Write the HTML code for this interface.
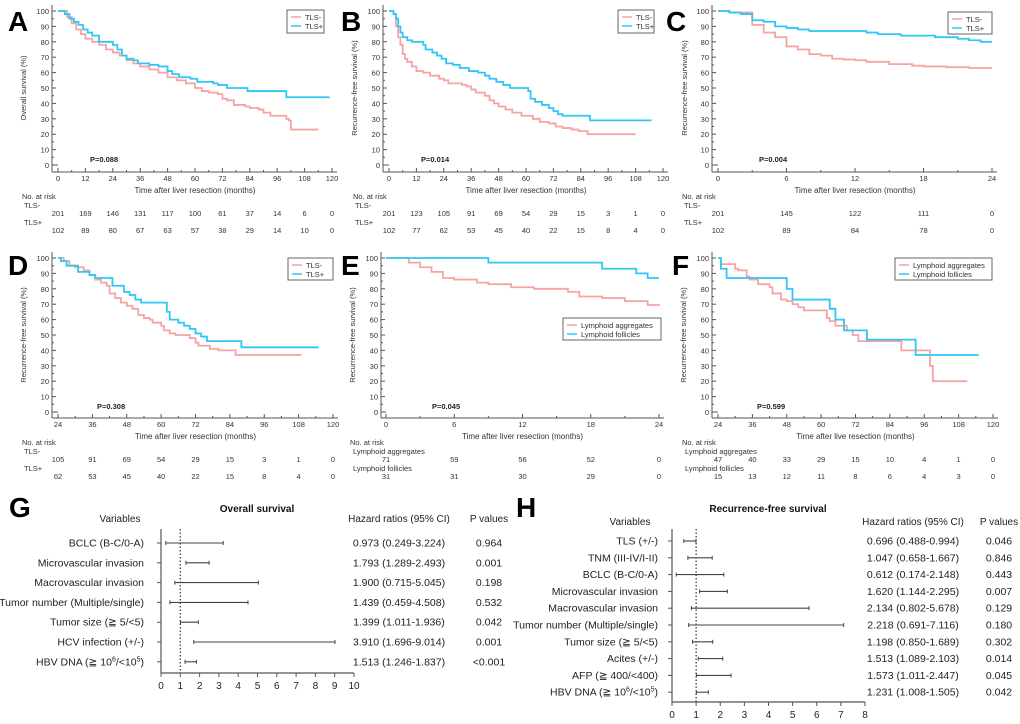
<!DOCTYPE html>
<html><head><meta charset="utf-8">
<style>
html,body{margin:0;padding:0;background:#fff;}
svg{display:block;font-family:"Liberation Sans",Arial,sans-serif;}
</style></head>
<body>
<svg id="fig" width="1020" height="724" viewBox="0 0 1020 724" xmlns="http://www.w3.org/2000/svg"></svg>
<script>
// ---------- Kaplan-Meier data ----------
const aNegT=[0,2,4,6,8,10,12,15,18,21,24,27,30,33,36,40,44,48,52,56,60,63,66,70,72,74,77,82,84,88,90,93,100,101,102,114];
const aNegS=[100,100,96,92,88,85,82,80,78,75,73,71,68,66,64,62,60,57,55,53,50,48,47,46,43,42,39,38,37,36,34,32,30,29,23,23];
const aPosT=[0,3,5,7,9,11,13,15,18,22,24,26,28,30,33,35,40,44,48,50,53,58,61,68,70,74,83,100,119];
const aPosS=[100,98,95,93,91,88,86,84,80,80,78,75,71,69,68,66,65,64,61,59,57,56,54,53,52,50,48,44,44];
const bNegT=[0,2,3,4,5,6,7,8,10,12,15,18,22,24,26,32,34,36,38,42,44,46,48,51,54,58,63,66,70,73,76,80,83,87,108];
const bNegS=[100,98,90,83,78,72,69,67,64,61,60,58,56,55,53,52,51,49,47,45,42,40,38,36,34,32,30,28,27,25,24,23,22,20,20];
const bPosT=[0,2,3,4,5,6,8,10,15,16,19,21,23,25,28,31,35,39,42,44,47,50,53,61,62,64,67,70,72,74,76,88,115];
const bPosS=[100,98,95,90,86,83,81,80,78,75,73,71,69,66,65,63,61,60,58,56,54,52,50,48,43,41,39,37,35,33,32,29,29];
const cNegT=[0,1,3,4,5,6,7,8,9,10,11,12,13,15,17,18,20,22,24];
const cNegS=[100,99,91,86,83,77,75,72,71,69,68.5,68,67,65.5,64.5,64,63.5,63,63];
const cPosT=[0,1,2,3,4,5,6,7,8,13,14,16,19,21,22,23,24];
const cPosS=[100,99,98,94,93,90,89,88,87,86,85,84,83,82,81,80,80];
const dNegT=[24,26,28,30,33,35,37,39,41,42,44,46,48,50,52,54,56,57,60,61,63,65,70,72,73,77,80,86,109];
const dNegS=[100,98,95,94,92,89,86,84,82,77,74,71,69,67,63,61,60,58,56,53,51,50,48,45,43,41,40,37,37];
const dPosT=[24,25,27,31,35,37,43,47,49,51,53,61,62,63,66,68,70,72,74,76,88,115];
const dPosS=[100,98,95,91,89,87,82,78,76,73,71,71,65,60,58,56,54,51,49,46,42,42];
const eAggT=[0,2,3,4,5,6,8,9,11,13,16,17,19,21,23,24];
const eAggS=[100,97,94,91,87,86,84,83,81,80,78,75,74,72,69.5,69];
const eFolT=[0,9,19,22,23,24];
const eFolS=[100,97,93,90,87,87];
const fAggT=[24,25,30,31,34,35,38,42,43,46,48,50,52,54,61,62,63,65,69,71,73,88,97,98,99,111];
const fAggS=[100,96,93,92,88,86,83,81,77,73,72,70,68,66,66,61,59,56,53,50,46,40,40,30,20,20];
const fFolT=[24,25,27,47,48,50,62,63,65,68,76,93,115];
const fFolS=[100,93,87,87,80,73,73,67,60,53,47,37,37];
// risk tables
const aRiskNeg=[201,169,146,131,117,100,61,37,14,6,0];
const aRiskPos=[102,89,80,67,63,57,38,29,14,10,0];
const bRiskNeg=[201,123,105,91,69,54,29,15,3,1,0];
const bRiskPos=[102,77,62,53,45,40,22,15,8,4,0];
const cRiskNeg=[201,145,122,111,0];
const cRiskPos=[102,89,84,78,0];
const dRiskNeg=[105,91,69,54,29,15,3,1,0];
const dRiskPos=[62,53,45,40,22,15,8,4,0];
const eRiskAgg=[71,59,56,52,0];
const eRiskFol=[31,31,30,29,0];
const fRiskAgg=[47,40,33,29,15,10,4,1,0];
const fRiskFol=[15,13,12,11,8,6,4,3,0];
const yTicks=[0,10,20,30,40,50,60,70,80,90,100];
// ---------- Forest data ----------
const gLabels=["BCLC (B-C/0-A)","Microvascular invasion","Macrovascular invasion","Tumor number (Multiple/single)","Tumor size (\u2267 5/<5)","HCV infection (+/-)","HBV DNA"];
const gHR=[0.973,1.793,1.900,1.439,1.399,3.910,1.513];
const gLo=[0.249,1.289,0.715,0.459,1.011,1.696,1.246];
const gHi=[3.224,2.493,5.045,4.508,1.936,9.014,1.837];
const gP=["0.964","0.001","0.198","0.532","0.042","0.001","<0.001"];
const gTicks=[0,1,2,3,4,5,6,7,8,9,10];
const hLabels=["TLS (+/-)","TNM (III-IV/I-II)","BCLC (B-C/0-A)","Microvascular invasion","Macrovascular invasion","Tumor number (Multiple/single)","Tumor size (\u2267 5/<5)","Acites (+/-)","AFP (\u2267 400/<400)","HBV DNA"];
const hHR=[0.696,1.047,0.612,1.620,2.134,2.218,1.198,1.513,1.573,1.231];
const hLo=[0.488,0.658,0.174,1.144,0.802,0.691,0.850,1.089,1.011,1.008];
const hHi=[0.994,1.667,2.148,2.295,5.678,7.116,1.689,2.103,2.447,1.505];
const hP=["0.046","0.846","0.443","0.007","0.129","0.180","0.302","0.014","0.045","0.042"];
const hTicks=[0,1,2,3,4,5,6,7,8];

const NS="http://www.w3.org/2000/svg";
const svg=document.getElementById('fig');
function mk(tag,attrs,parent,txt){const e=document.createElementNS(NS,tag);for(const k in attrs)e.setAttribute(k,attrs[k]);if(txt!==undefined)e.textContent=txt;(parent||svg).appendChild(e);return e;}
const PINK="#f7a3a3",CYAN="#2fc7f5",AX="#555";

function kmPanel(cfg){
  const g=mk('g',{});
  
  
  const sx=t=>cfg.x0+(t-cfg.tmin)/(cfg.tmax-cfg.tmin)*(cfg.x1-cfg.x0);
  const sy=s=>cfg.y0-(s/100)*(cfg.y0-cfg.y100);
  const L=mk('text',{x:cfg.lx,y:cfg.ly,'font-size':28,'font-weight':'bold',fill:'#000'},g,cfg.letter);
  
  const ya=mk('line',{x1:cfg.ax,y1:cfg.y100-6,x2:cfg.ax,y2:cfg.ay,stroke:AX,'stroke-width':1},g);
  
  const xa=mk('line',{x1:cfg.ax,y1:cfg.ay,x2:cfg.x1+5,y2:cfg.ay,stroke:AX,'stroke-width':1},g);
  
  yTicks.forEach(v=>{
    mk('line',{x1:cfg.ax,y1:sy(v),x2:cfg.ax+4,y2:sy(v),stroke:AX},g);
    if(v<100)mk('line',{x1:cfg.ax,y1:sy(v+5),x2:cfg.ax+2,y2:sy(v+5),stroke:AX},g);
    const t=mk('text',{x:cfg.ax-3,y:sy(v)+3,'font-size':7.5,'text-anchor':'end',fill:'#333'},g,String(v));
    
  });
  for(let t=cfg.tmin;t<=cfg.tmax;t+=cfg.step){
    mk('line',{x1:sx(t),y1:cfg.ay,x2:sx(t),y2:cfg.ay-4,stroke:AX},g);
    if(t<cfg.tmax)mk('line',{x1:sx(t+cfg.step/2),y1:cfg.ay,x2:sx(t+cfg.step/2),y2:cfg.ay-2,stroke:AX},g);
    const tl=mk('text',{x:sx(t),y:cfg.ay+9,'font-size':7.5,'text-anchor':'middle',fill:'#333'},g,String(t));
    
  }
  mk('line',{x1:cfg.ax,y1:cfg.y0,x2:sx(cfg.tmin),y2:cfg.y0,stroke:AX},g);
  const xt=mk('text',{x:(cfg.x0+cfg.x1)/2,y:cfg.ay+21,'font-size':8,'text-anchor':'middle',fill:'#333'},g,cfg.xtitle);
  
  const yt=mk('text',{x:0,y:0,'font-size':7.5,'text-anchor':'middle',fill:'#333',transform:`translate(${cfg.ytx},${(cfg.y0+cfg.y100)/2}) rotate(-90)`},g,cfg.ytitle);
  
  cfg.series.forEach((s,i)=>{
    let d=`M${sx(s.t[0])},${sy(s.s[0])}`;
    for(let k=1;k<s.t.length;k++){d+=`H${sx(s.t[k])}V${sy(s.s[k])}`;}
    const p=mk('path',{d:d,fill:'none',stroke:s.c,'stroke-width':1.8},g);
    
    
  });
  const pv=mk('text',{x:cfg.px,y:cfg.y0-3,'font-size':7.5,'font-weight':'bold',fill:'#222'},g,cfg.p);
  
  const lg=mk('g',{},g);
  
  mk('rect',{x:cfg.leg[0],y:cfg.leg[1],width:cfg.leg[2],height:cfg.leg[3],fill:'#fff',stroke:'#666','stroke-width':1},lg);
  cfg.series.forEach((s,i)=>{
    const yy=cfg.leg[1]+7+i*9;
    mk('line',{x1:cfg.leg[0]+4,y1:yy,x2:cfg.leg[0]+14,y2:yy,stroke:s.c,'stroke-width':1.5},lg);
    const lt=mk('text',{x:cfg.leg[0]+18,y:yy+3,'font-size':7.5,fill:'#333'},lg,s.name);
    
  });
  const rt=mk('g',{},g);
  
  const ry=cfg.ay+27;
  mk('text',{x:cfg.rx,y:ry,'font-size':7.5,fill:'#333'},rt,'No. at risk');
  cfg.series.forEach((s,i)=>{
    mk('text',{x:cfg.rx+(cfg.lymph?3:2),y:ry+9+i*17,'font-size':7.5,fill:'#333'},rt,s.name);
    s.risk.forEach((n,k)=>{
      const t=cfg.tmin+k*cfg.riskStep;
      mk('text',{x:sx(t),y:ry+17+i*17,'font-size':7.5,'text-anchor':'middle',fill:'#333'},rt,String(n));
    });
  });
}

const xt1="Time after liver resection (months)";
const os="Overall survival (%)",rfs="Recurrence-free survival (%)";
kmPanel({id:'a',letter:'A',lx:8,ly:31,x0:58,x1:332,tmin:0,tmax:120,step:12,riskStep:12,y100:11,y0:165,ax:52,ay:172,xtitle:xt1,ytitle:os,ytx:26,px:90,p:'P=0.088',leg:[287,10,37,23],rx:22,
  series:[{name:'TLS-',t:aNegT,s:aNegS,c:PINK,risk:aRiskNeg},{name:'TLS+',t:aPosT,s:aPosS,c:CYAN,risk:aRiskPos}]});
kmPanel({id:'b',letter:'B',lx:341,ly:31,x0:389,x1:663,tmin:0,tmax:120,step:12,riskStep:12,y100:11,y0:165,ax:383,ay:172,xtitle:xt1,ytitle:rfs,ytx:357,px:421,p:'P=0.014',leg:[618,10,36,23],rx:353,
  series:[{name:'TLS-',t:bNegT,s:bNegS,c:PINK,risk:bRiskNeg},{name:'TLS+',t:bPosT,s:bPosS,c:CYAN,risk:bRiskPos}]});
kmPanel({id:'c',letter:'C',lx:666,ly:31,x0:718,x1:992,tmin:0,tmax:24,step:6,riskStep:6,y100:11,y0:165,ax:712,ay:172,xtitle:xt1,ytitle:rfs,ytx:687,px:759,p:'P=0.004',leg:[948,12,44,22],rx:682,
  series:[{name:'TLS-',t:cNegT,s:cNegS,c:PINK,risk:cRiskNeg},{name:'TLS+',t:cPosT,s:cPosS,c:CYAN,risk:cRiskPos}]});
kmPanel({id:'d',letter:'D',lx:8,ly:275,x0:58,x1:333,tmin:24,tmax:120,step:12,riskStep:12,y100:258,y0:412,ax:52,ay:418,xtitle:xt1,ytitle:rfs,ytx:26,px:97,p:'P=0.308',leg:[288,258,45,22],rx:22,
  series:[{name:'TLS-',t:dNegT,s:dNegS,c:PINK,risk:dRiskNeg},{name:'TLS+',t:dPosT,s:dPosS,c:CYAN,risk:dRiskPos}]});
kmPanel({id:'e',letter:'E',lx:341,ly:275,x0:386,x1:659,tmin:0,tmax:24,step:6,riskStep:6,y100:258,y0:412,ax:381,ay:418,xtitle:xt1,ytitle:rfs,ytx:355,px:432,p:'P=0.045',leg:[563,318,98,22],rx:350,lymph:true,
  series:[{name:'Lymphoid aggregates',t:eAggT,s:eAggS,c:PINK,risk:eRiskAgg},{name:'Lymphoid follicles',t:eFolT,s:eFolS,c:CYAN,risk:eRiskFol}]});
kmPanel({id:'f',letter:'F',lx:672,ly:275,x0:718,x1:993,tmin:24,tmax:120,step:12,riskStep:12,y100:258,y0:412,ax:712,ay:418,xtitle:"Time after live resection (months)",ytitle:rfs,ytx:686,px:757,p:'P=0.599',leg:[895,258,97,22],rx:682,lymph:true,
  series:[{name:'Lymphoid aggregates',t:fAggT,s:fAggS,c:PINK,risk:fRiskAgg},{name:'Lymphoid follicles',t:fFolT,s:fFolS,c:CYAN,risk:fRiskFol}]});

function forest(cfg){
  const g=mk('g',{});
  
  
  const FS=10.5;
  const sx=v=>cfg.x0+(v-cfg.vmin)/(cfg.vmax-cfg.vmin)*(cfg.x1-cfg.x0);
  const L=mk('text',{x:cfg.lx,y:517,'font-size':28,'font-weight':'bold',fill:'#000'},g,cfg.letter);
  
  const ti=mk('text',{x:cfg.tx,y:512,'font-size':10,'font-weight':'bold','text-anchor':'middle',fill:'#111'},g,cfg.title);
  
  mk('text',{x:cfg.vx,y:cfg.hy,'font-size':10,'text-anchor':'middle',fill:'#222'},g,'Variables');
  mk('text',{x:cfg.hrx,y:cfg.hy,'font-size':10,'text-anchor':'middle',fill:'#222'},g,'Hazard ratios (95% CI)');
  mk('text',{x:cfg.ppx,y:cfg.hy,'font-size':10,'text-anchor':'middle',fill:'#222'},g,'P values');
  const ya=mk('line',{x1:cfg.x0,y1:cfg.top,x2:cfg.x0,y2:cfg.ay,stroke:AX,'stroke-width':1.2},g);
  
  const xa=mk('line',{x1:cfg.x0,y1:cfg.ay,x2:cfg.x1,y2:cfg.ay,stroke:AX,'stroke-width':1.2},g);
  
  cfg.ticks.forEach(v=>{
    mk('line',{x1:sx(v),y1:cfg.ay,x2:sx(v),y2:cfg.ay+4,stroke:AX},g);
    const t=mk('text',{x:sx(v),y:cfg.ay+16,'font-size':10,'text-anchor':'middle',fill:'#222'},g,String(v));
    
  });
  const ref=mk('line',{x1:sx(1),y1:cfg.top,x2:sx(1),y2:cfg.ay,stroke:'#333','stroke-width':1.2,'stroke-dasharray':'1.5,2'},g);
  
  cfg.labels.forEach((lab,i)=>{
    const y=cfg.r0+i*cfg.rs;
    mk('line',{x1:cfg.x0-4,y1:y,x2:cfg.x0,y2:y,stroke:AX},g);
    const lt=mk('text',{x:cfg.labx,y:y+3.5,'font-size':FS,'text-anchor':'end',fill:'#222'},g);
    
    if(lab==='HBV DNA'){
      lt.textContent='HBV DNA (\u2267 10';
      mk('tspan',{'font-size':7,dy:-4},lt,'6');
      mk('tspan',{'font-size':FS,dy:4},lt,'/<10');
      mk('tspan',{'font-size':7,dy:-4},lt,'5');
      mk('tspan',{'font-size':FS,dy:4},lt,')');
    } else lt.textContent=lab;
    const ci=mk('line',{x1:sx(cfg.lo[i]),y1:y,x2:sx(cfg.hi[i]),y2:y,stroke:'#444','stroke-width':1.1},g);
    
    mk('line',{x1:sx(cfg.lo[i]),y1:y-2,x2:sx(cfg.lo[i]),y2:y+2,stroke:'#444'},g);
    mk('line',{x1:sx(cfg.hi[i]),y1:y-2,x2:sx(cfg.hi[i]),y2:y+2,stroke:'#444'},g);
    const hr=mk('text',{x:cfg.hrx,y:y+3.5,'font-size':FS,'text-anchor':'middle',fill:'#222'},g,`${cfg.hr[i].toFixed(3)} (${cfg.lo[i].toFixed(3)}-${cfg.hi[i].toFixed(3)})`);
    
    const pv=mk('text',{x:cfg.ppx,y:y+3.5,'font-size':FS,'text-anchor':'middle',fill:'#222'},g,cfg.p[i]);
    
  });
}
forest({id:'g',letter:'G',lx:9,title:'Overall survival',tx:257,vx:120,hy:522,hrx:399,ppx:489,x0:161,x1:354,vmin:0,vmax:10,ticks:gTicks,top:529,ay:673,r0:543,rs:19.8,labx:144,
  labels:gLabels,hr:gHR,lo:gLo,hi:gHi,p:gP});
forest({id:'h',letter:'H',lx:516,title:'Recurrence-free survival',tx:768,vx:630,hy:525,hrx:913,ppx:999,x0:672,x1:865,vmin:0,vmax:8,ticks:hTicks,top:529,ay:702,r0:541,rs:16.8,labx:658,
  labels:hLabels,hr:hHR,lo:hLo,hi:hHi,p:hP});
</script>
</body></html>
